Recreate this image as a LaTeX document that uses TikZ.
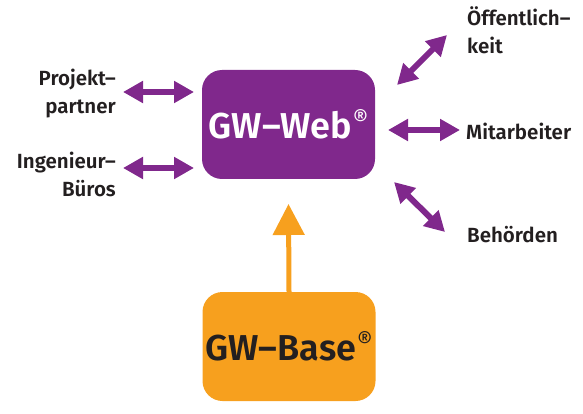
\documentclass[tikz,border=0pt]{standalone}
\usepackage{fontspec}
\setmainfont{Fira Sans}[BoldFont={Fira Sans SemiBold}]
\usetikzlibrary{arrows.meta}
\definecolor{gwpurple}{RGB}{128,40,140}
\definecolor{gworange}{RGB}{247,160,30}
\definecolor{gwtext}{RGB}{35,31,32}
\newcommand{\gwreg}{\kern1pt\raisebox{0.3em}{\fontsize{24}{24}\fontseries{l}\selectfont\textregistered}}
\tikzset{
  box/.style={rounded corners=20pt, minimum width=173pt, minimum height=109pt, inner sep=0pt},
  lbl/.style={font=\fontsize{20.5}{28}\selectfont\bfseries, text=gwtext, inner sep=0pt},
  darrow/.style={gwpurple, line width=6pt, {Triangle[length=20pt,width=21pt]}-{Triangle[length=20pt,width=21pt]}},
  oarrow/.style={gworange, line width=5pt, -{Triangle[length=31pt,width=31pt]}}
}
\begin{document}
\begin{tikzpicture}[x=1pt,y=-1pt]
\useasboundingbox (0,0) rectangle (583,414);
\node[box, fill=gwpurple, text=white, font=\fontsize{36}{36}\selectfont\bfseries] (web) at (288.5,124.5) {GW–Web\gwreg};
\node[box, fill=gworange, text=gwtext, font=\fontsize{36}{36}\selectfont\bfseries] (base) at (289,346.5) {GW–Base\gwreg};
\draw[oarrow] (base.north) -- (288.5,204) coordinate (otip);
% left labels
\node[lbl, align=right, anchor=north east] (proj) at (116,69) {Projekt–\\partner};
\node[lbl, align=right, anchor=north east] (ing) at (116,152) {Ingenieur–\\Büros};
% right labels
\node[lbl, align=left, anchor=north west] (oeff) at (467,6) {Öffentlich–\\keit};
\node[lbl, anchor=west] (mit) at (466,131) {Mitarbeiter};
\node[lbl, anchor=north west] (beh) at (467,226) {Behörden};
% arrows
\coordinate (p1) at (123,92); \coordinate (p2) at (194,92);
\coordinate (i1) at (123,168); \coordinate (i2) at (194,168);
\coordinate (o1) at (397,85); \coordinate (o2) at (447,35);
\coordinate (m1) at (388,130); \coordinate (m2) at (460,130);
\coordinate (b1) at (394,182); \coordinate (b2) at (445,232);
\draw[darrow] (p1) -- (p2);
\draw[darrow] (i1) -- (i2);
\draw[darrow] (o1) -- (o2);
\draw[darrow] (m1) -- (m2);
\draw[darrow] (b1) -- (b2);
\end{tikzpicture}
\end{document}
